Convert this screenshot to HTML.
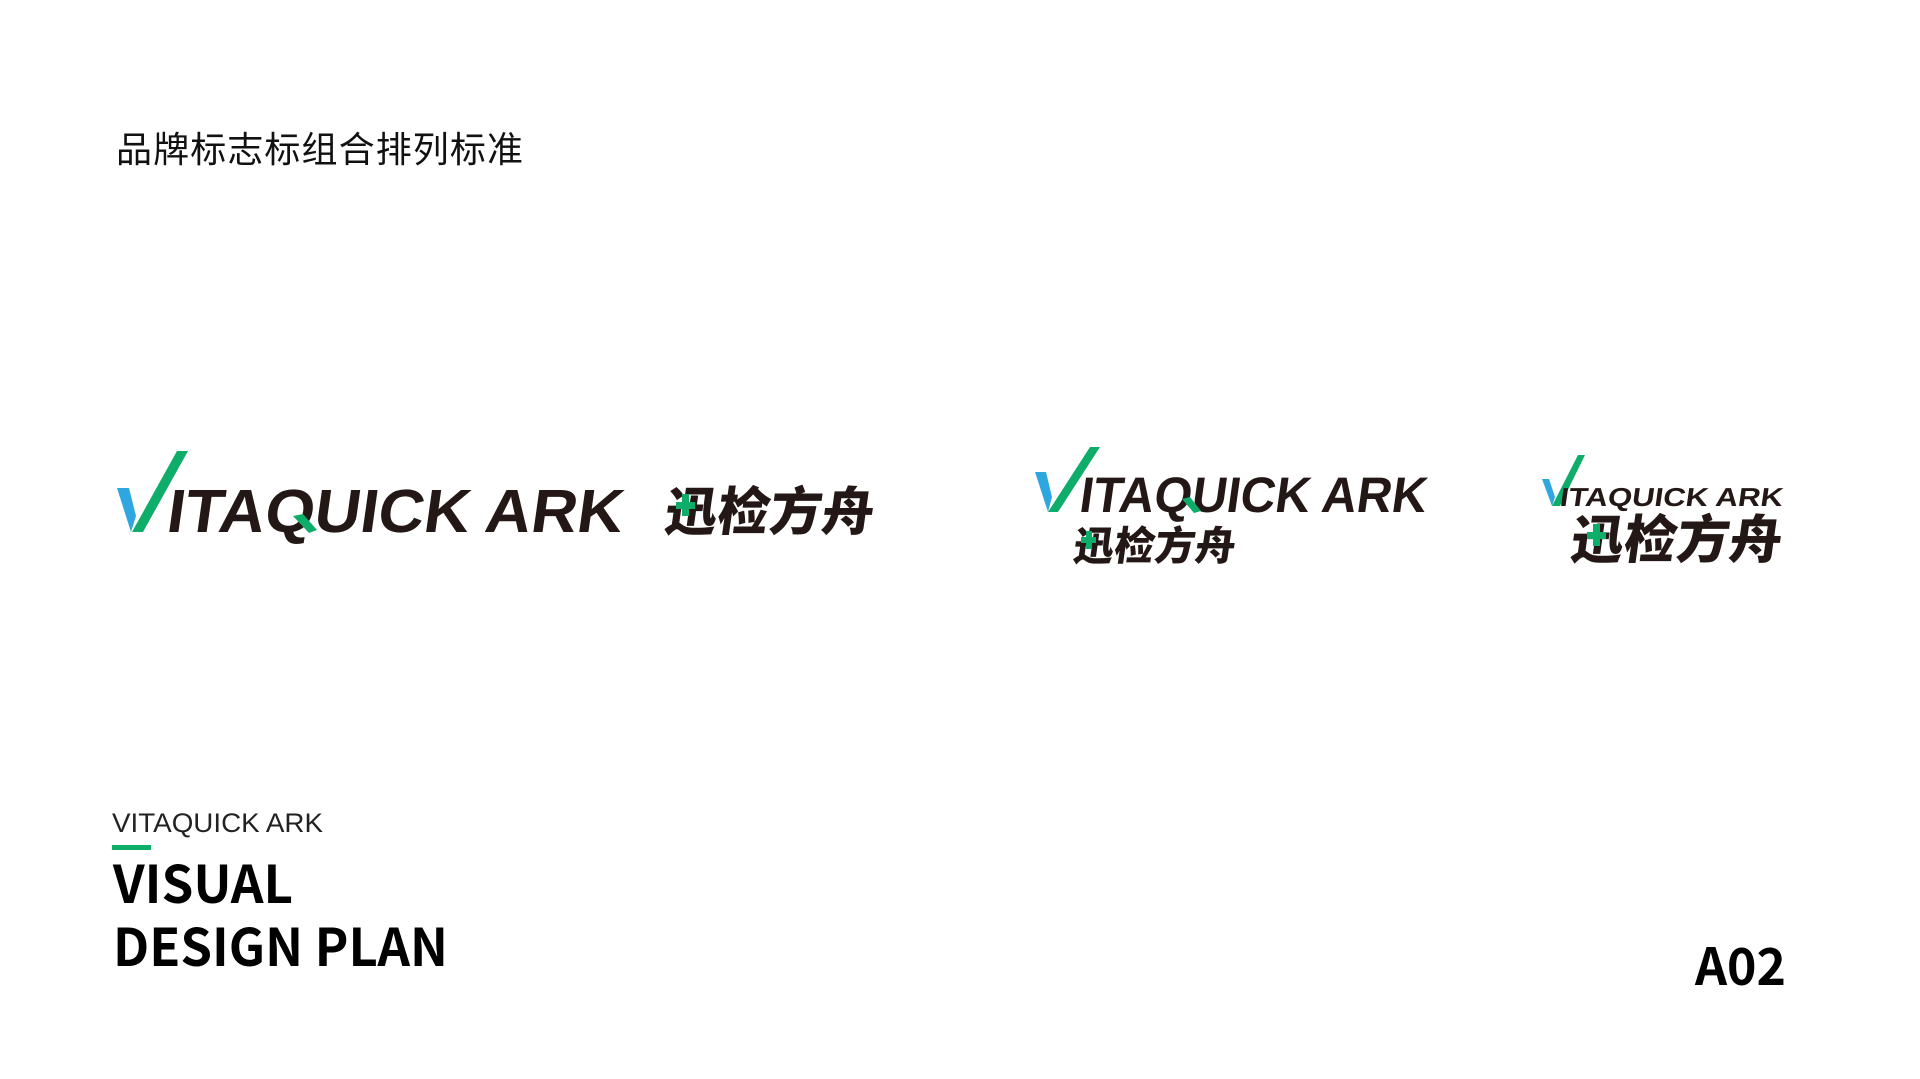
<!DOCTYPE html>
<html><head><meta charset="utf-8"><style>
html,body{margin:0;padding:0;background:#fff;}
svg{display:block;}
</style></head><body>
<svg width="1920" height="1079" viewBox="0 0 1920 1079" xmlns="http://www.w3.org/2000/svg">
<rect width="1920" height="1079" fill="#fff"/>
<text x="116" y="162" font-family="Noto Sans CJK SC, sans-serif" font-size="36" fill="#111" textLength="407">品牌标志标组合排列标准</text>

<!-- Logo 1 -->
<polygon points="117,488 129,488 136,516 131,532" fill="#2ea7e0"/>
<polygon points="177,451 188,451 143,532 132,532" fill="#0fad6a"/>
<g transform="translate(165,532) skewX(-8)">
<text x="0" y="0" font-family="Liberation Sans, sans-serif" font-weight="bold" font-size="61" fill="#231815" textLength="456" lengthAdjust="spacingAndGlyphs">ITAQUICK ARK</text>
</g>
<polygon points="293,516 303,514 317,530 309,533" fill="#0fad6a"/>
<g transform="translate(663,530) skewX(-8)">
<text x="0" y="0" font-family="Noto Sans CJK SC, sans-serif" font-weight="900" font-size="52" fill="#231815" textLength="209" lengthAdjust="spacingAndGlyphs">迅检方舟</text>
</g>
<rect x="682" y="494" width="7" height="22" fill="#0fad6a"/>
<rect x="676" y="502" width="19" height="7" fill="#0fad6a"/>

<!-- Logo 2 -->
<polygon points="1035,472 1046,472 1052,497 1048,512" fill="#2ea7e0"/>
<polygon points="1090,447 1100,447 1058,512 1048,512" fill="#0fad6a"/>
<g transform="translate(1078,512) skewX(-8)">
<text x="0" y="0" font-family="Liberation Sans, sans-serif" font-weight="bold" font-size="50" fill="#231815" textLength="347" lengthAdjust="spacingAndGlyphs">ITAQUICK ARK</text>
</g>
<polygon points="1182,499 1190,497 1201,511 1194,513" fill="#0fad6a"/>
<g transform="translate(1072,560) skewX(-8)">
<text x="0" y="0" font-family="Noto Sans CJK SC, sans-serif" font-weight="900" font-size="40" fill="#231815" textLength="162" lengthAdjust="spacingAndGlyphs">迅检方舟</text>
</g>
<rect x="1086" y="531" width="6" height="18" fill="#0fad6a"/>
<rect x="1081" y="537" width="15" height="6" fill="#0fad6a"/>

<!-- Logo 3 -->
<polygon points="1542,479 1549,479 1555,497 1552,506" fill="#2ea7e0"/>
<polygon points="1578,455 1585,455 1560,506 1552,506" fill="#0fad6a"/>
<g transform="translate(1559,506) skewX(-8)">
<text x="0" y="0" font-family="Liberation Sans, sans-serif" font-weight="bold" font-size="26" fill="#231815" textLength="223" lengthAdjust="spacingAndGlyphs">ITAQUICK ARK</text>
</g>
<g transform="translate(1569,558) skewX(-8)">
<text x="0" y="0" font-family="Noto Sans CJK SC, sans-serif" font-weight="900" font-size="52" fill="#231815" textLength="211" lengthAdjust="spacingAndGlyphs">迅检方舟</text>
</g>
<rect x="1593" y="524" width="7" height="22" fill="#0fad6a"/>
<rect x="1587" y="532" width="19" height="7" fill="#0fad6a"/>

<!-- Bottom left -->
<text x="112" y="832" font-family="Liberation Sans, sans-serif" font-size="27" fill="#222" textLength="211" lengthAdjust="spacingAndGlyphs" style="font-weight:300">VITAQUICK ARK</text>
<rect x="112" y="845" width="39" height="5" fill="#0fad6a"/>
<text x="113" y="903" font-family="Noto Sans CJK SC, sans-serif" font-weight="bold" font-size="52" fill="#000" textLength="180" lengthAdjust="spacingAndGlyphs">VISUAL</text>
<text x="113" y="966" font-family="Noto Sans CJK SC, sans-serif" font-weight="bold" font-size="52" fill="#000" textLength="335" lengthAdjust="spacingAndGlyphs">DESIGN PLAN</text>
<text x="1695" y="985" font-family="Noto Sans CJK SC, sans-serif" font-weight="bold" font-size="51" fill="#000" textLength="91" lengthAdjust="spacingAndGlyphs">A02</text>
</svg>
</body></html>
